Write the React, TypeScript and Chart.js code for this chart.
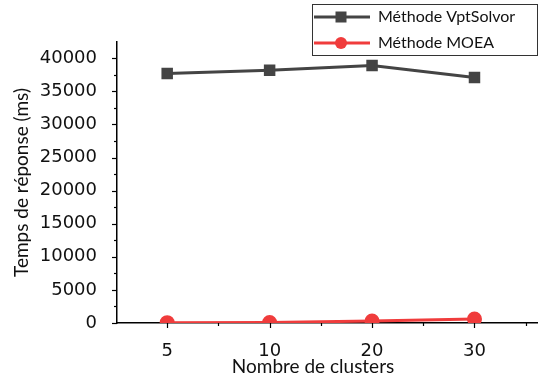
import React, { useEffect, useRef } from "react";
import { Chart, registerables } from "chart.js";

Chart.register(...registerables);

const categories = ["5", "10", "20", "30"];
const vptSolvor = [37700, 38200, 38900, 37100];
const moea = [50, 80, 300, 600];
const seriesLabels = ["Méthode VptSolvor", "Méthode MOEA"];
const yTicks = [0, 5000, 10000, 15000, 20000, 25000, 30000, 35000, 40000];
const xTitle = "Nombre de clusters";
const yTitle = "Temps de réponse (ms)";

const GRAY = "#444444";
const RED = "#f03c3c";

const tickPlugin = {
  id: "customTicks",
  afterDraw(chart: any) {
    const ctx = chart.ctx;
    const xs = chart.scales.x;
    const ys = chart.scales.y;
    const axisX = chart.chartArea.left;
    const axisY = chart.chartArea.bottom;
    ctx.save();
    ctx.strokeStyle = "#000";
    ctx.lineWidth = 1.2;
    // y ticks (major + minor)
    for (let v = 0; v <= 42000; v += 2500) {
      const py = Math.round(ys.getPixelForValue(v)) + 0.5;
      const major = v % 5000 === 0;
      ctx.beginPath();
      ctx.moveTo(axisX - (major ? 5 : 3), py);
      ctx.lineTo(axisX, py);
      ctx.stroke();
    }
    // x ticks
    for (let i = 0; i < categories.length; i++) {
      for (const off of [0, 0.5]) {
        const px = Math.round(xs.getPixelForValue(i + off)) + 0.5;
        if (px > chart.chartArea.right) continue;
        ctx.beginPath();
        ctx.moveTo(px, axisY);
        ctx.lineTo(px, axisY + (off === 0 ? 5 : 3));
        ctx.stroke();
      }
    }
    // x title
    ctx.fillStyle = "#111";
    ctx.font = "19px Lato";
    ctx.textAlign = "center";
    ctx.textBaseline = "middle";
    ctx.fillText(xTitle, 313, 367);
    // legend box
    const bx = 312.5, by = 4.5, bw = 225, bh = 51;
    ctx.lineWidth = 1;
    ctx.strokeStyle = "#333";
    ctx.fillStyle = "#fff";
    ctx.fillRect(bx, by, bw, bh);
    ctx.strokeRect(bx, by, bw, bh);
    const rows = [17, 43];
    chart.data.datasets.forEach((ds: any, i: number) => {
      const y = rows[i];
      ctx.strokeStyle = ds.borderColor;
      ctx.lineWidth = 3;
      ctx.beginPath();
      ctx.moveTo(314, y);
      ctx.lineTo(370, y);
      ctx.stroke();
      ctx.fillStyle = ds.pointBackgroundColor;
      if (ds.pointStyle === "rect") {
        ctx.fillRect(341 - 5.5, y - 5.5, 11, 11);
      } else {
        ctx.beginPath();
        ctx.arc(341, y, 6, 0, Math.PI * 2);
        ctx.fill();
      }
      ctx.fillStyle = "#111";
      ctx.font = "16px Lato";
      ctx.textBaseline = "middle";
      ctx.textAlign = "left";
      ctx.fillText(ds.label, 378, y);
    });
    ctx.restore();
  },
};

export default function App() {
  const ref = useRef<HTMLCanvasElement | null>(null);
  useEffect(() => {
    if (!ref.current) return;
    const chart = new Chart(ref.current, {
      type: "line",
      data: {
        datasets: [
          {
            label: seriesLabels[0],
            data: vptSolvor.map((v, i) => ({ x: i, y: v })),
            borderColor: GRAY,
            backgroundColor: GRAY,
            pointBackgroundColor: GRAY,
            pointBorderColor: GRAY,
            pointStyle: "rect",
            pointRadius: 6,
            borderWidth: 3,
            clip: { left: 10, right: 10, top: 10, bottom: 0 },
          },
          {
            label: seriesLabels[1],
            data: moea.map((v, i) => ({ x: i, y: v })),
            borderColor: RED,
            backgroundColor: RED,
            pointBackgroundColor: RED,
            pointBorderColor: RED,
            pointStyle: "circle",
            pointRadius: 6,
            borderWidth: 3,
            clip: { left: 10, right: 10, top: 10, bottom: 0 },
          },
        ],
      },
      options: {
        animation: false,
        responsive: false,
        layout: { autoPadding: false, padding: { top: 42, left: 0, right: 0, bottom: 0 } },
        plugins: { legend: { display: false }, tooltip: { enabled: false } },
        scales: {
          x: {
            type: "linear",
            min: -0.49,
            max: 3.62,
            grid: { display: false },
            border: { display: true, color: "#000", width: 1.5 },
            afterBuildTicks: (s: any) => {
              s.ticks = categories.map((_, i) => ({ value: i }));
            },
            afterFit: (s: any) => {
              s.height = 61;
              s.paddingLeft = 0;
              s.paddingRight = 0;
            },
            ticks: {
              autoSkip: false,
              maxRotation: 0,
              padding: 10,
              color: "#111",
              font: { family: "DejaVu Sans", size: 18 },
              callback: (v: any) => categories[v as number] ?? "",
            },
          },
          y: {
            min: 0,
            max: 42460,
            grid: { display: false },
            border: { display: true, color: "#000", width: 1.5 },
            afterBuildTicks: (s: any) => {
              s.ticks = yTicks.map((v) => ({ value: v }));
            },
            afterFit: (s: any) => {
              s.width = 117;
            },
            ticks: {
              padding: 12,
              color: "#111",
              font: { family: "DejaVu Sans", size: 18 },
              callback: (v: any) => String(v),
            },
            title: {
              display: true,
              text: yTitle,
              color: "#111",
              font: { family: "Lato", size: 19 },
              padding: { top: 10, bottom: 0 },
            },
          },
        },
      },
      plugins: [tickPlugin],
    } as any);
    return () => chart.destroy();
  }, []);
  return (
    <div style={{ position: "fixed", left: 0, top: 0, width: 538, height: 384, background: "#fff" }}>
      <canvas ref={ref} width={538} height={384} style={{ width: 538, height: 384 }} />
    </div>
  );
}
